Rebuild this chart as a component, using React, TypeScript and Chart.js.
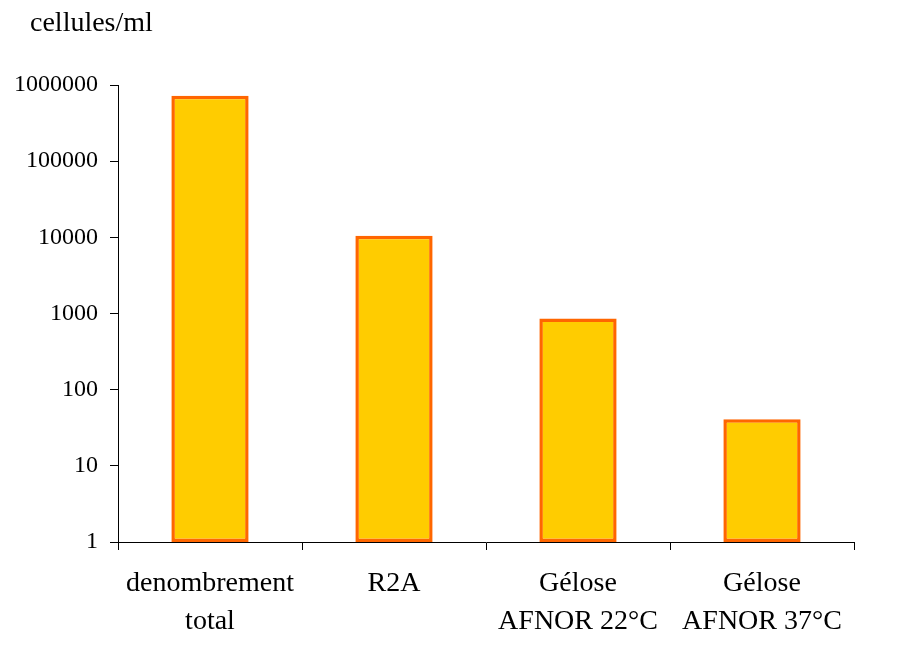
import React, { useEffect, useRef } from 'react';
import { Chart, registerables } from 'chart.js';

Chart.register(...registerables);

const categories: (string | string[])[] = [
    ['denombrement', 'total'],
    'R2A',
    ['Gélose', 'AFNOR 22°C'],
    ['Gélose', 'AFNOR 37°C'],
];
const cellCounts = [720000, 10500, 860, 41];
const yTickValues = [1, 10, 100, 1000, 10000, 100000, 1000000];
const unitLabel = 'cellules/ml';

const serif = "'Liberation Serif', 'Times New Roman', serif";

// draws the unit text above the y axis, like the original figure
const unitLabelPlugin = {
    id: 'unitLabel',
    afterDraw(chart: Chart) {
        const ctx = chart.ctx;
        ctx.save();
        ctx.font = `28px ${serif}`;
        ctx.fillStyle = '#000';
        ctx.textAlign = 'left';
        ctx.textBaseline = 'alphabetic';
        ctx.fillText(unitLabel, chart.chartArea.left - 88, 31);
        ctx.restore();
    },
};

function App() {
    const chartRef = useRef<HTMLCanvasElement | null>(null);
    const chartInstance = useRef<Chart | null>(null);

    useEffect(() => {
        if (!chartRef.current) return;
        if (chartInstance.current) {
            chartInstance.current.destroy();
        }

        chartInstance.current = new Chart(chartRef.current, {
            type: 'bar',
            data: {
                labels: categories,
                datasets: [
                    {
                        data: cellCounts,
                        backgroundColor: '#FFCC00',
                        borderColor: '#FF6600',
                        borderWidth: 3.5,
                        borderSkipped: false,
                        barPercentage: 0.42,
                        categoryPercentage: 1,
                    },
                ],
            },
            options: {
                animation: false,
                responsive: true,
                maintainAspectRatio: false,
                layout: {
                    padding: { top: 85, right: 47, left: 0, bottom: 0 },
                },
                plugins: {
                    legend: { display: false },
                    tooltip: { enabled: false },
                },
                scales: {
                    x: {
                        grid: {
                            display: true,
                            offset: true,
                            drawOnChartArea: false,
                            drawTicks: true,
                            tickLength: 8,
                            color: '#000',
                        },
                        border: { display: true, color: '#000', width: 1 },
                        ticks: {
                            color: '#000',
                            padding: 15,
                            maxRotation: 0,
                            autoSkip: false,
                            font: { family: serif, size: 28, lineHeight: 1.36 },
                        },
                        afterFit(scale) {
                            scale.height = 109;
                        },
                    },
                    y: {
                        type: 'logarithmic',
                        min: 1,
                        max: 1000000,
                        grid: {
                            display: true,
                            drawOnChartArea: false,
                            drawTicks: true,
                            tickLength: 8,
                            color: '#000',
                        },
                        border: { display: true, color: '#000', width: 1 },
                        afterBuildTicks(scale) {
                            scale.ticks = yTickValues.map(v => ({ value: v }));
                        },
                        ticks: {
                            color: '#000',
                            padding: 12,
                            font: { family: serif, size: 24 },
                            callback: (value) => String(value),
                        },
                        afterFit(scale) {
                            scale.width = 118;
                        },
                    },
                },
            },
            plugins: [unitLabelPlugin],
        });

        return () => {
            if (chartInstance.current) {
                chartInstance.current.destroy();
                chartInstance.current = null;
            }
        };
    }, []);

    return (
        <div style={{ position: 'absolute', left: 0, top: 0, width: 901, height: 651, background: '#fff' }}>
            <canvas ref={chartRef} />
        </div>
    );
}

export default App;
